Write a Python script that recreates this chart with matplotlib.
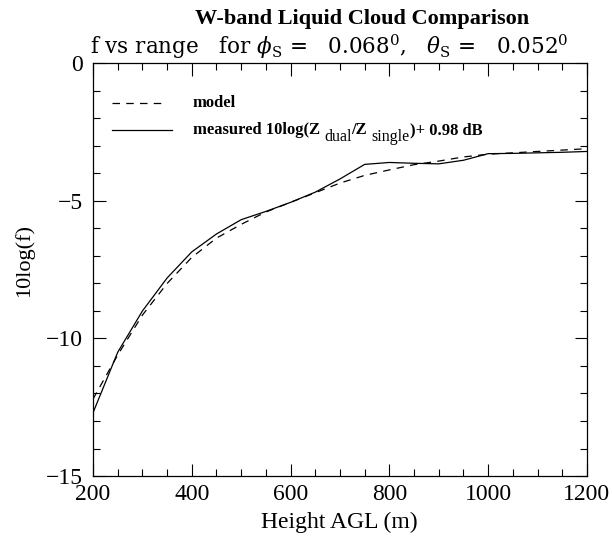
import numpy as np
import matplotlib
matplotlib.use('Agg')
import matplotlib.pyplot as plt
from matplotlib.ticker import MultipleLocator

# heights (m) and 10log(f)
height = [200, 250, 300, 350, 400, 450, 500, 550, 600, 650, 700,
          750, 800, 850, 900, 950, 1000, 1050, 1100, 1150, 1200]
measured = [-12.7, -10.5, -9.0, -7.8, -6.85, -6.2, -5.68, -5.38, -5.05, -4.68, -4.2,
            -3.67, -3.6, -3.63, -3.65, -3.52, -3.28, -3.27, -3.25, -3.23, -3.2]
model = [-12.2, -10.6, -9.15, -8.0, -7.05, -6.35, -5.85, -5.4, -5.05, -4.7, -4.35,
         -4.07, -3.87, -3.68, -3.55, -3.4, -3.3, -3.25, -3.2, -3.15, -3.1]

plt.rcParams['font.family'] = 'Liberation Serif'
plt.rcParams['mathtext.fontset'] = 'dejavuserif'

fig = plt.figure(figsize=(6.12, 5.4), dpi=100)
ax = fig.add_axes([0.152, 0.1185, 0.807, 0.764])

ax.plot(height, model, color='black', lw=0.9, dashes=(6, 5))
ax.plot(height, measured, color='black', lw=0.9)

ax.set_xlim(200, 1200)
ax.set_ylim(-15, 0)
ax.xaxis.set_major_locator(MultipleLocator(200))
ax.xaxis.set_minor_locator(MultipleLocator(50))
ax.yaxis.set_major_locator(MultipleLocator(5))
ax.yaxis.set_minor_locator(MultipleLocator(1))
ax.tick_params(which='both', direction='in', top=True, right=True, width=0.8)
ax.tick_params(which='major', length=9, labelsize=17)
ax.tick_params(axis='x', which='major', pad=6)
ax.tick_params(axis='y', which='major', pad=7)
ax.tick_params(which='minor', length=5)
for s in ax.spines.values():
    s.set_linewidth(0.9)

fig.text(0.554, 0.033, 'Height AGL (m)', ha='center', va='center', fontsize=17)
fig.text(0.04, 0.518, '10log(f)', ha='center', va='center', rotation=90, fontsize=16)

fig.text(0.592, 0.964, 'W-band Liquid Cloud Comparison', ha='center', va='center',
         fontsize=16, fontweight='bold')
fig.text(0.538, 0.914,
         r'f vs range   for $\phi_{\rm S}$ =   0.068$^{\rm 0}$,   $\theta_{\rm S}$ =   0.052$^{\rm 0}$',
         ha='center', va='center', fontsize=15.5, family='DejaVu Serif')

# legend
ax.plot([0.038, 0.146], [0.903, 0.903], transform=ax.transAxes, color='black', lw=0.9, dashes=(6, 5))
ax.plot([0.038, 0.160], [0.838, 0.838], transform=ax.transAxes, color='black', lw=0.9)
ax.text(0.202, 0.903, 'model', transform=ax.transAxes, va='center',
        fontsize=12, fontweight='bold')

t = ax.text(0.202, 0.838, 'measured 10log(Z ', transform=ax.transAxes, va='center',
            fontsize=12, fontweight='bold')
pieces = [('dual', -5, 'normal'), ('/Z ', 0, 'bold'), ('single', -5, 'normal'),
          (')+ 0.98 dB', 0, 'bold')]
prev_dy = 0
for s, dy, w in pieces:
    t = ax.annotate(s, xy=(1, 0), xycoords=t, xytext=(0, dy - prev_dy),
                    textcoords='offset points', va='bottom', ha='left',
                    fontsize=12 if w == 'bold' else 11.5, fontweight=w)
    prev_dy = dy

fig.savefig('out.png', dpi=100)
